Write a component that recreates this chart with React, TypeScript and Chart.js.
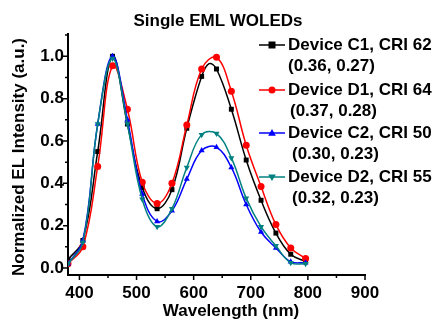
import { useEffect, useRef } from 'react';
import { Chart, registerables } from 'chart.js';

Chart.register(...registerables);

const wavelengths = [380, 406, 432, 458, 484, 510, 536, 562, 588, 614, 640, 666, 692, 718, 744, 770, 796];
// Device C1 shows an extra sharp apex near 627 nm between its markers
const wavelengthsC1 = [380, 406, 432, 458, 484, 510, 536, 562, 588, 614, 627, 640, 666, 692, 718, 744, 770, 796];
const deviceC1 = [0.04, 0.13, 0.55, 1.0, 0.68, 0.38, 0.28, 0.37, 0.66, 0.905, 0.965, 0.94, 0.75, 0.51, 0.32, 0.165, 0.065, 0.03];
const deviceD1 = [0.02, 0.1, 0.48, 0.955, 0.75, 0.405, 0.305, 0.4, 0.675, 0.94, 0.995, 0.835, 0.58, 0.385, 0.205, 0.095, 0.045];
const deviceC2 = [0.02, 0.13, 0.68, 1.0, 0.7, 0.35, 0.22, 0.27, 0.42, 0.555, 0.57, 0.475, 0.3, 0.17, 0.095, 0.03, 0.025];
const deviceD2 = [0.02, 0.12, 0.68, 0.99, 0.68, 0.325, 0.195, 0.28, 0.475, 0.63, 0.635, 0.52, 0.33, 0.195, 0.105, 0.025, 0.02];
const hiddenMarkerWavelengthsC1 = [627];

const seriesNames = ['Device C1, CRI 62', 'Device D1, CRI 64', 'Device C2, CRI 50', 'Device D2, CRI 55'];
const cieLabels = ['(0.36, 0.27)', '(0.37, 0.28)', '(0.30, 0.23)', '(0.32, 0.23)'];
const seriesColors = ['#000000', '#ff0000', '#0000ff', '#008080'];
const seriesMarkers = ['rect', 'circle', 'triangle', 'triangleDown'];

const xTickValues = [400, 500, 600, 700, 800, 900];
const yTickValues = [0, 0.2, 0.4, 0.6, 0.8, 1.0];

const titleText = 'Single EML WOLEDs';
const xTitle = 'Wavelength (nm)';
const yTitle = 'Normalized EL Intensity (a.u.)';

const FONT = '"Liberation Sans", Arial, sans-serif';

function drawMarker(ctx: CanvasRenderingContext2D, kind: string, x: number, y: number, r: number, color: string) {
  ctx.fillStyle = color;
  ctx.beginPath();
  if (kind === 'rect') {
    ctx.rect(x - r, y - r, 2 * r, 2 * r);
  } else if (kind === 'circle') {
    ctx.arc(x, y, r, 0, Math.PI * 2);
  } else if (kind === 'triangle') {
    ctx.moveTo(x, y - r * 1.15);
    ctx.lineTo(x + r * 1.1, y + r * 0.75);
    ctx.lineTo(x - r * 1.1, y + r * 0.75);
    ctx.closePath();
  } else {
    ctx.moveTo(x, y + r * 1.15);
    ctx.lineTo(x + r * 1.1, y - r * 0.75);
    ctx.lineTo(x - r * 1.1, y - r * 0.75);
    ctx.closePath();
  }
  ctx.fill();
}

const decorPlugin = {
  id: 'decor',
  beforeDatasetsDraw(chart: any) {
    const ctx: CanvasRenderingContext2D = chart.ctx;
    const xs = chart.scales.x;
    const ys = chart.scales.y;
    const a = chart.chartArea;
    ctx.save();
    ctx.strokeStyle = '#000';
    ctx.lineWidth = 2;
    ctx.beginPath();
    ctx.moveTo(a.left, a.top);
    ctx.lineTo(a.left, a.bottom + 1);
    ctx.moveTo(a.left - 1, a.bottom);
    ctx.lineTo(a.right + 1, a.bottom);
    ctx.stroke();
    ctx.lineWidth = 1.5;
    ctx.beginPath();
    for (let i = 0; i < xTickValues.length; i++) {
      const v = xTickValues[i];
      const px = xs.getPixelForValue(v);
      ctx.moveTo(px, a.bottom);
      ctx.lineTo(px, a.bottom + 5);
      if (i < xTickValues.length - 1) {
        const m = xs.getPixelForValue((v + xTickValues[i + 1]) / 2);
        ctx.moveTo(m, a.bottom);
        ctx.lineTo(m, a.bottom + 3);
      }
    }
    for (let i = 0; i < yTickValues.length; i++) {
      const v = yTickValues[i];
      const py = ys.getPixelForValue(v);
      ctx.moveTo(a.left, py);
      ctx.lineTo(a.left - 5, py);
      const m = ys.getPixelForValue(v + 0.1);
      ctx.moveTo(a.left, m);
      ctx.lineTo(a.left - 3, m);
    }
    ctx.stroke();
    ctx.restore();
  },
  afterDraw(chart: any) {
    const ctx: CanvasRenderingContext2D = chart.ctx;
    ctx.save();
    ctx.fillStyle = '#000';
    ctx.font = `bold 17px ${FONT}`;
    ctx.textBaseline = 'middle';
    ctx.textAlign = 'center';
    ctx.fillText(titleText, 218, 21);
    ctx.fillText(xTitle, 231, 311);
    ctx.save();
    ctx.translate(19, 157);
    ctx.rotate(-Math.PI / 2);
    ctx.fillText(yTitle, 0, 0);
    ctx.restore();

    ctx.textAlign = 'left';
    const rowY = [45, 90, 133, 177];
    const subX = [288, 290, 292, 292];
    for (let i = 0; i < seriesNames.length; i++) {
      const y = rowY[i];
      ctx.strokeStyle = seriesColors[i];
      ctx.lineWidth = 1.5;
      ctx.beginPath();
      ctx.moveTo(259, y);
      ctx.lineTo(285, y);
      ctx.stroke();
      drawMarker(ctx, seriesMarkers[i], 272, y, 3.5, seriesColors[i]);
      ctx.fillStyle = '#000';
      ctx.fillText(seriesNames[i], 288, y);
      ctx.fillText(cieLabels[i], subX[i], y + 21);
    }
    ctx.restore();
  },
};

export default function App() {
  const canvasRef = useRef<HTMLCanvasElement | null>(null);

  useEffect(() => {
    if (!canvasRef.current) return;
    const series = [deviceC1, deviceD1, deviceC2, deviceD2];
    const xsFor = [wavelengthsC1, wavelengths, wavelengths, wavelengths];
    const datasets = series.map((vals, i) => ({
      label: seriesNames[i],
      data: vals.map((v, j) => ({ x: xsFor[i][j], y: v })),
      borderColor: seriesColors[i],
      backgroundColor: seriesColors[i],
      borderWidth: 1.5,
      pointRadius: (c: any) => (i === 0 && c.raw && hiddenMarkerWavelengthsC1.includes(c.raw.x) ? 0 : 3.5),
      pointHoverRadius: 3.5,
      pointBorderWidth: 0,
      pointStyle: seriesMarkers[i] === 'triangleDown' ? 'triangle' : seriesMarkers[i],
      pointRotation: seriesMarkers[i] === 'triangleDown' ? 180 : 0,
      tension: 0.4,
      fill: false,
      order: 3 - i,
    }));

    const chart = new Chart(canvasRef.current, {
      type: 'line',
      data: { datasets } as any,
      plugins: [decorPlugin],
      options: {
        responsive: false,
        animation: false,
        events: [],
        layout: { padding: { top: 33, right: 74, left: 0, bottom: 0 } },
        plugins: { legend: { display: false }, title: { display: false }, tooltip: { enabled: false } },
        scales: {
          x: {
            type: 'linear',
            min: 380,
            max: 900,
            grid: { display: false, drawTicks: false },
            border: { display: false },
            afterFit: (s: any) => { s.height = 45; },
            afterBuildTicks: (s: any) => { s.ticks = xTickValues.map((v) => ({ value: v })); },
            ticks: {
              padding: 8,
              color: '#000',
              font: { family: FONT, size: 17, weight: 'bold' },
              callback: (v: any) => String(v),
              maxRotation: 0,
            },
          },
          y: {
            type: 'linear',
            min: -0.033,
            max: 1.11,
            grid: { display: false, drawTicks: false },
            border: { display: false },
            afterFit: (s: any) => { s.width = 68; },
            afterBuildTicks: (s: any) => { s.ticks = yTickValues.map((v) => ({ value: v })); },
            ticks: {
              padding: 4,
              color: '#000',
              font: { family: FONT, size: 17, weight: 'bold' },
              callback: (v: any) => Number(v).toFixed(1),
            },
          },
        },
      } as any,
    });
    return () => chart.destroy();
  }, []);

  return (
    <div style={{ position: 'fixed', left: 0, top: 0, width: 439, height: 320, background: '#fff' }}>
      <canvas ref={canvasRef} width={439} height={320} />
    </div>
  );
}
